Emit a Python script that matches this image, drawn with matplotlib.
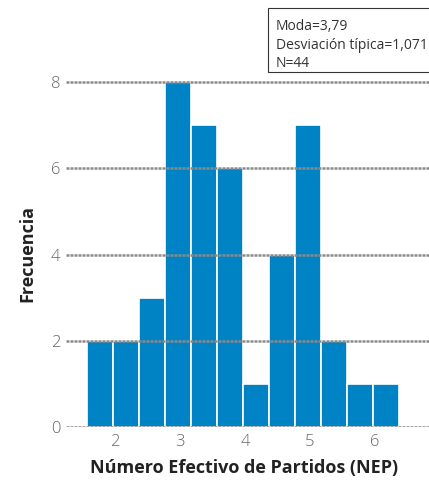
import matplotlib
matplotlib.use("Agg")
import matplotlib.pyplot as plt
from matplotlib.patches import Rectangle
import numpy as np

plt.rcParams['font.family'] = ['Open Sans', 'DejaVu Sans']

bin_start = 1.57
bin_width = 0.4
counts = [2, 2, 3, 8, 7, 6, 1, 4, 7, 2, 1, 1]
x_ticks = [2, 3, 4, 5, 6]
y_ticks = [0, 2, 4, 6, 8]
stats_lines = ["Moda=3,79", "Desviación típica=1,071", "N=44"]
x_label = "Número Efectivo de Partidos (NEP)"
y_label = "Frecuencia"

W, H = 429, 482
fig = plt.figure(figsize=(W/100, H/100), dpi=100)
ax = fig.add_axes([66/W, 1-427/H, 1-66/W, (427-40)/H])

lefts = bin_start + bin_width*np.arange(len(counts))
ax.bar(lefts, counts, width=bin_width, align='edge', color='#0083C4',
       edgecolor='white', linewidth=1.2, zorder=2)

for yv in y_ticks:
    ax.axhline(yv, color='#8a8a8a', linewidth=1.8, linestyle=(0, (1.2, 0.4)), zorder=3)

ax.set_xlim(2 - 49/65, 2 + 314/65)
ax.set_ylim(0, (427-40)/43.1)
ax.set_xticks(x_ticks)
ax.set_yticks(y_ticks)
ax.tick_params(length=0, labelsize=12, colors='#666666', pad=5)
ax.tick_params(axis='y', pad=4)
for lab in ax.get_xticklabels() + ax.get_yticklabels():
    lab.set_fontweight('light')
for s in ax.spines.values():
    s.set_visible(False)

fig.text(244/W, 1-468/H, x_label, ha='center', va='center',
         fontsize=13, fontweight='bold', color='#222222')
fig.text(27/W, 1-253/H, y_label, ha='center', va='center', rotation=90,
         fontsize=13, fontweight='bold', color='#222222')

fig.patches.append(Rectangle((268/W, 1-72/H), (440-268)/W, (72-8)/H,
                             transform=fig.transFigure, facecolor='white',
                             edgecolor='#333333', linewidth=0.8, zorder=5))
fig.text(276/W, 1-19/H, "\n".join(stats_lines), ha='left', va='top',
         fontsize=10, color='#333333', linespacing=1.33, zorder=6)

fig.savefig("out.png", dpi=100)
